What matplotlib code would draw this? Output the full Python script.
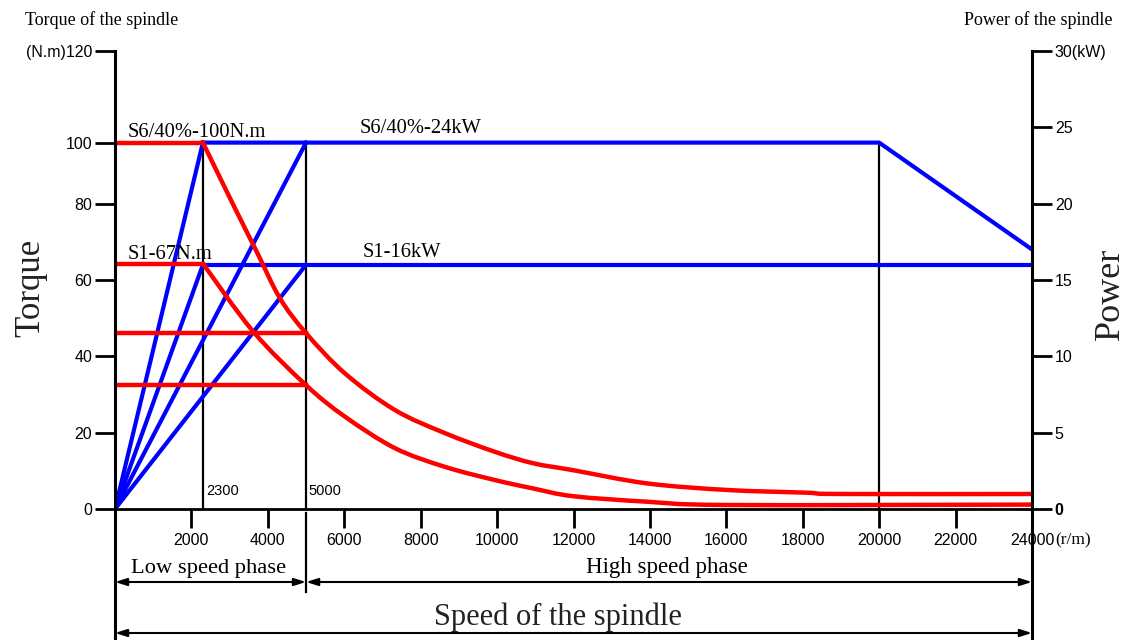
import matplotlib
matplotlib.use("Agg")
import matplotlib.pyplot as plt
from matplotlib.path import Path
from matplotlib.patches import PathPatch
from matplotlib.transforms import blended_transform_factory as btf

SERIF = ['Liberation Serif', 'DejaVu Serif']
plt.rcParams['font.family'] = SERIF
NUM = ['Liberation Sans', 'DejaVu Sans']

# ---------------- data ----------------
# power curves (kW) vs speed (r/min)
s6_power_rpm = [2300, 20000, 24000]
s6_power_kw = [24, 24, 17]
s1_power_rpm = [2300, 24000]
s1_power_kw = [16, 16]
ramp_ends_rpm = [2300, 2300, 5000, 5000]
ramp_ends_kw = [24, 16, 24, 16]

# torque curves (N.m) vs speed (r/min)
s6_flat_rpm = [0, 2300]
s6_flat_nm = [100, 100]
s6_torque_rpm = [2300, 3096, 3710, 4318, 5000, 6019, 7328, 8637, 9945,
                 10939, 11986, 13915, 16008, 18102, 18975, 24000]
s6_torque_nm = [100, 83, 70.2, 57.5, 48, 37.0, 27.0, 20.7, 15.6,
                12.5, 10.6, 7.0, 5.2, 4.45, 4.1, 4.1]
s1_flat_rpm = [0, 2300]
s1_flat_nm = [67, 67]
s1_torque_rpm = [2300, 3620, 5000, 6019, 7328, 8637, 9945, 10947,
                 11986, 13915, 16008, 24000]
s1_torque_nm = [67, 48.4, 33.8, 25.2, 16.6, 11.5, 7.9, 5.6,
                3.5, 2.0, 1.1, 1.2]
hs_const_torque_nm = [48, 33.8]     # constant-torque lines up to 5000 r/min
hs_const_rpm = [0, 5000]

# the chart draws 100 N.m at the 24 kW level
NM_TO_AXIS = 24 / 100

corner_speeds = [2300, 5000, 20000]
x_ticks = [2000, 4000, 6000, 8000, 10000, 12000, 14000, 16000, 18000, 20000, 22000, 24000]
x_tick_labels = [str(v) for v in x_ticks]
left_tick_pos = [0, 5, 10, 15, 20, 24, 30]
left_tick_labels = ['0', '20', '40', '60', '80', '100', '(N.m)120']
right_ticks = [0, 5, 10, 15, 20, 25, 30]
right_tick_labels = ['0', '5', '10', '15', '20', '25', '30(kW)']

BLUE = '#0000ff'
RED = '#ff0000'


def smooth_path(xs, ys):
    """Catmull-Rom spline through the given points, as cubic Bezier path."""
    pts = list(zip(xs, ys))
    verts = [pts[0]]
    codes = [Path.MOVETO]
    n = len(pts)
    for i in range(n - 1):
        p0 = pts[i - 1] if i > 0 else pts[i]
        p1 = pts[i]
        p2 = pts[i + 1]
        p3 = pts[i + 2] if i + 2 < n else pts[i + 1]
        c1 = (p1[0] + (p2[0] - p0[0]) / 6, p1[1] + (p2[1] - p0[1]) / 6)
        c2 = (p2[0] - (p3[0] - p1[0]) / 6, p2[1] - (p3[1] - p1[1]) / 6)
        verts += [c1, c2, p2]
        codes += [Path.CURVE4] * 3
    return Path(verts, codes)


# ---------------- figure ----------------
W, H = 1127, 640
fig = plt.figure(figsize=(W / 100, H / 100), dpi=100)
ax = fig.add_axes([115 / W, 131 / H, 917 / W, 458 / H])
ax.set_xlim(0, 24000)
ax.set_ylim(0, 30)
for s in ['top', 'left', 'right']:
    ax.spines[s].set_visible(False)
ax.spines['bottom'].set_linewidth(2)

below = -131 / 458
ax.plot([0, 0], [below, 1], transform=ax.transAxes, color='black', lw=2.2, clip_on=False, zorder=5)
ax.plot([1, 1], [below, 1], transform=ax.transAxes, color='black', lw=2.2, clip_on=False, zorder=5)

ax.set_yticks(left_tick_pos)
ax.set_yticklabels(left_tick_labels, fontfamily=NUM, fontsize=11.5)
ax.tick_params(axis='y', direction='out', length=14.4, width=2, pad=2)
ax.set_xticks(x_ticks)
ax.set_xticklabels(x_tick_labels, fontfamily=NUM, fontsize=11.5)
ax.tick_params(axis='x', direction='out', length=13.5, width=2, pad=4)

ax2 = ax.twinx()
ax2.set_ylim(0, 30)
for s in ['top', 'left', 'right', 'bottom']:
    ax2.spines[s].set_visible(False)
ax2.set_yticks(right_ticks)
ax2.set_yticklabels(right_tick_labels, fontfamily=NUM, fontsize=11.5)
ax2.tick_params(axis='y', direction='out', length=14.4, width=2, pad=2)
ax2.get_yticklabels()[0].set_fontweight('bold')

# vertical corner lines
for sp in corner_speeds:
    ax.plot([sp, sp], [0, 24], color='black', lw=1.6, zorder=2)
trans = btf(ax.transData, ax.transAxes)
ax.plot([5000, 5000], [-4 / 458, -83 / 458], transform=trans, color='black', lw=1.6, clip_on=False)

# blue power lines
for xe, ye in zip(ramp_ends_rpm, ramp_ends_kw):
    ax.plot([0, xe], [0, ye], color=BLUE, lw=3, zorder=3)
ax.plot(s6_power_rpm, s6_power_kw, color=BLUE, lw=3, zorder=3)
ax.plot(s1_power_rpm, s1_power_kw, color=BLUE, lw=3, zorder=3)

# red torque lines
ax.plot(s6_flat_rpm, [t * NM_TO_AXIS for t in s6_flat_nm], color=RED, lw=3.2, zorder=4)
ax.plot(s1_flat_rpm, [t * NM_TO_AXIS for t in s1_flat_nm], color=RED, lw=3.2, zorder=4)
for xs, ys in [(s6_torque_rpm, s6_torque_nm), (s1_torque_rpm, s1_torque_nm)]:
    path = smooth_path(xs, [t * NM_TO_AXIS for t in ys])
    ax.add_patch(PathPatch(path, fill=False, edgecolor=RED, lw=3.2, zorder=4,
                           capstyle='round', joinstyle='round'))
for t in hs_const_torque_nm:
    ax.plot(hs_const_rpm, [t * NM_TO_AXIS] * 2, color=RED, lw=3.2, zorder=4)

# labels on curves
ax.text(340, 24.35, 'S6/40%-100N.m', fontsize=14.8, ha='left', va='baseline', zorder=6)
ax.text(6412, 24.65, 'S6/40%-24kW', fontsize=14.8, ha='left', va='baseline', zorder=6)
ax.text(340, 16.4, 'S1-67N.m', fontsize=14.8, ha='left', va='baseline', zorder=6)
ax.text(6490, 16.5, 'S1-16kW', fontsize=14.8, ha='left', va='baseline', zorder=6)
ax.text(2380, 1.18, '2300', fontfamily=NUM, fontsize=10.5, ha='left', va='center')
ax.text(5060, 1.18, '5000', fontfamily=NUM, fontsize=10.5, ha='left', va='center')

ax.annotate('(r/m)', xy=(24000, 0), xytext=(17, -22.5), textcoords='offset points',
            fontsize=12.5, ha='left', va='center', annotation_clip=False)

# phase arrows
arrow = dict(arrowstyle='<|-|>,head_length=0.7,head_width=0.22', lw=1.5, color='black',
             shrinkA=0, shrinkB=0)
y_ph = -73 / 458
ax.annotate('', xy=(0, y_ph), xytext=(5000, y_ph), xycoords=trans, textcoords=trans,
            arrowprops=arrow, annotation_clip=False)
ax.annotate('', xy=(5000, y_ph), xytext=(24000, y_ph), xycoords=trans, textcoords=trans,
            arrowprops=arrow, annotation_clip=False)
y_sp = -124 / 458
ax.annotate('', xy=(0, y_sp), xytext=(24000, y_sp), xycoords=trans, textcoords=trans,
            arrowprops=arrow, annotation_clip=False)
ax.text(2460, -59 / 458, 'Low speed phase', transform=trans, fontsize=16.2, ha='center', va='center')
ax.text(14446, -59 / 458, 'High speed phase', transform=trans, fontsize=16.5, ha='center', va='center')
ax.text(11594, -108 / 458, 'Speed of the spindle', transform=trans, fontsize=22,
        ha='center', va='center', color='#222222')

# titles and axis names
fig.text(25 / W, 1 - 20 / H, 'Torque of the spindle', fontsize=13, ha='left', va='center')
fig.text(1113 / W, 1 - 20 / H, 'Power of the spindle', fontsize=13, ha='right', va='center')
fig.text(31 / W, 1 - 288 / H, 'Torque', fontsize=25, rotation=90, ha='center', va='center',
         color='#222222')
fig.text(1110 / W, 1 - 294 / H, 'Power', fontsize=26, rotation=90, ha='center', va='center',
         color='#222222')

fig.savefig('out.png', dpi=100)
